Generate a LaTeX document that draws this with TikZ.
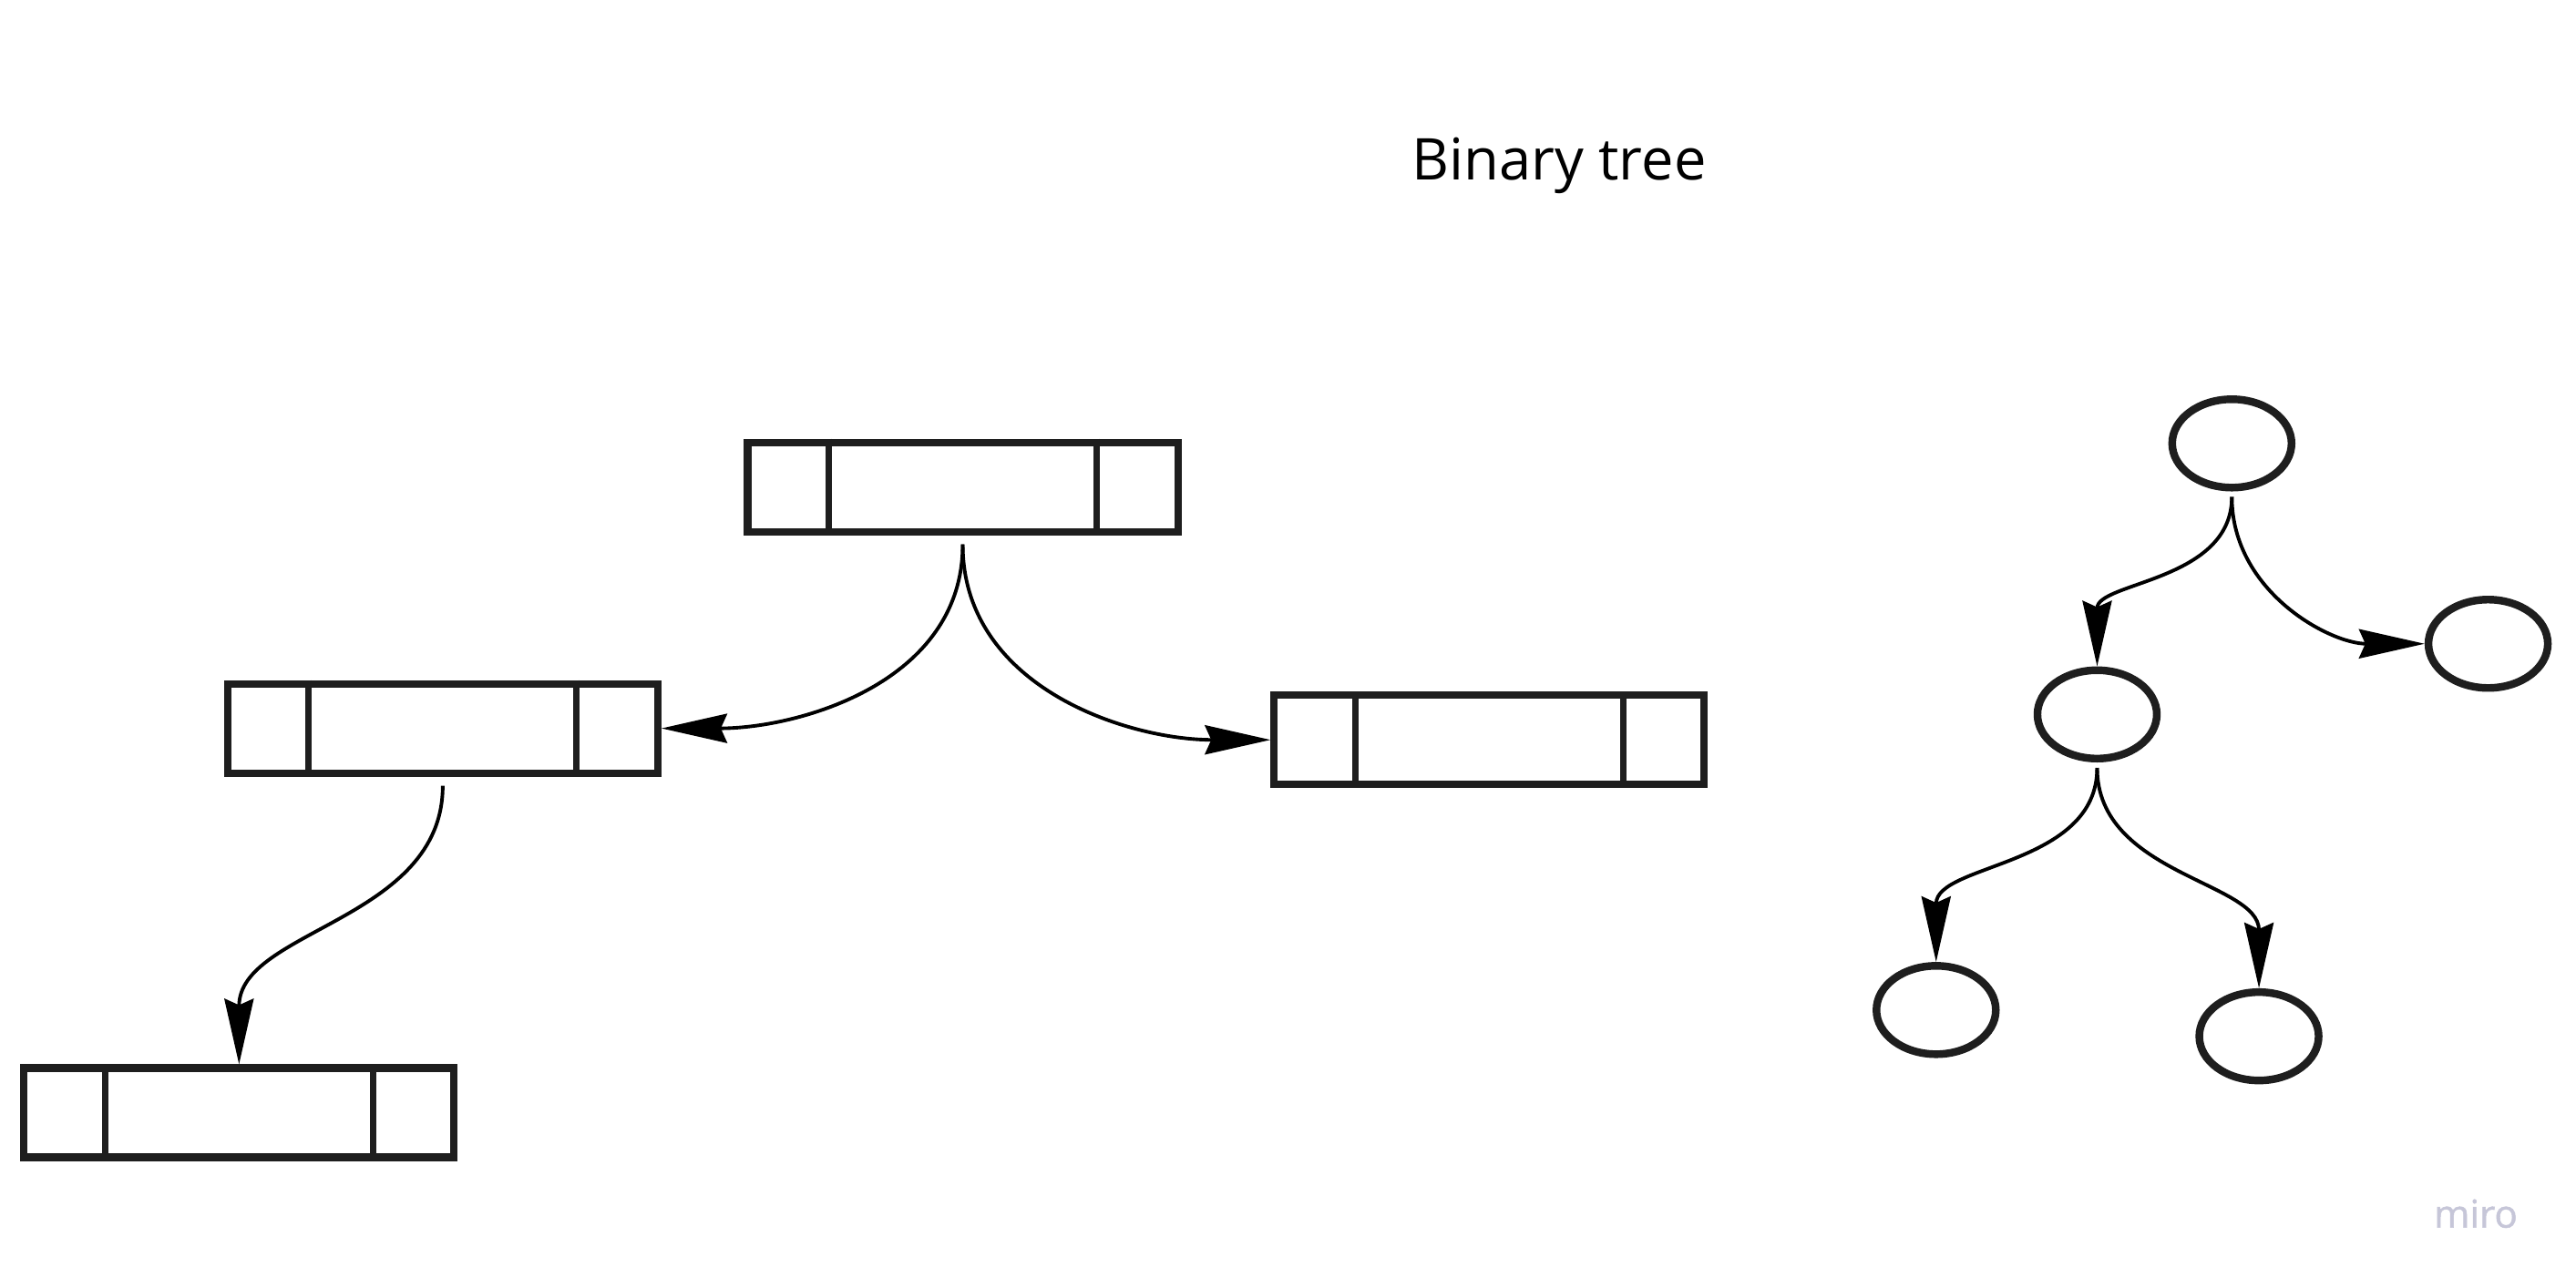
\documentclass[tikz,border=0pt]{standalone}
\usepackage{fontspec}
\setmainfont{Open Sans}
\usetikzlibrary{arrows.meta,shapes.geometric}

\definecolor{ink}{HTML}{1E1E1E}
\definecolor{mirogrey}{HTML}{C6C6D8}

\tikzset{
  cell/.style={draw=ink, rectangle, line width=2.3pt, minimum width=47.2mm, minimum height=9.8mm, inner sep=0pt},
  leaf/.style={draw=ink, ellipse, line width=2.4pt, minimum width=13.1mm, minimum height=9.7mm, inner sep=0pt},
  link/.style={-{Stealth[length=7.2mm, width=3.2mm, inset=0.7mm]}, line width=1.1pt, black},
}

\newcommand{\splitcell}[1]{%
  \draw[ink, line width=2pt] ([xshift=9.3mm]#1.north west) -- ([xshift=9.3mm]#1.south west);
  \draw[ink, line width=2pt] ([xshift=-9.3mm]#1.north east) -- ([xshift=-9.3mm]#1.south east);
}

\begin{document}
\begin{tikzpicture}[x=0.18029mm, y=-0.18029mm]
    \useasboundingbox (0,0) rectangle (1568,784);

    \node (t) at (949,101) {\fontsize{18}{22}\selectfont Binary tree};

    % linked nodes
    \node[cell] (a) at (586,296.5) {};
    \node[cell] (b1) at (269.5,443.5) {};
    \node[cell] (b2) at (906.5,450.5) {};
    \node[cell] (c1) at (145.5,677.5) {};
    \splitcell{a}
    \splitcell{b1}
    \splitcell{b2}
    \splitcell{c1}

    \draw[link] ([yshift=-1mm]a.south) to[out=-90, in=0] (b1.east);
    \draw[link] ([yshift=-1mm]a.south) to[out=-90, in=180] (b2.west);
    \draw[link] ([yshift=-1mm]b1.south) to[out=-90, in=90] (c1.north);

    % tree
    \node[leaf] (r) at (1358.5,270) {};
    \node[leaf] (rr) at (1514.5,392) {};
    \node[leaf] (l) at (1276.5,435) {};
    \node[leaf] (ll) at (1178.5,615) {};
    \node[leaf] (lr) at (1375,631) {};

    \draw[link] ([yshift=-0.6mm]r.south) to[out=-90, in=90] (l.north);
    \draw[link] ([yshift=-0.6mm]r.south) to[out=-90, in=180] (rr.west);
    \draw[link] ([yshift=-0.6mm]l.south) to[out=-90, in=90] (ll.north);
    \draw[link] ([yshift=-0.6mm]l.south) to[out=-90, in=90] (lr.north);

    \node[text=mirogrey] (m) at (1507,739) {\fontsize{12}{14}\selectfont\addfontfeature{FakeBold=1.2}miro};
  \end{tikzpicture}
\end{document}
